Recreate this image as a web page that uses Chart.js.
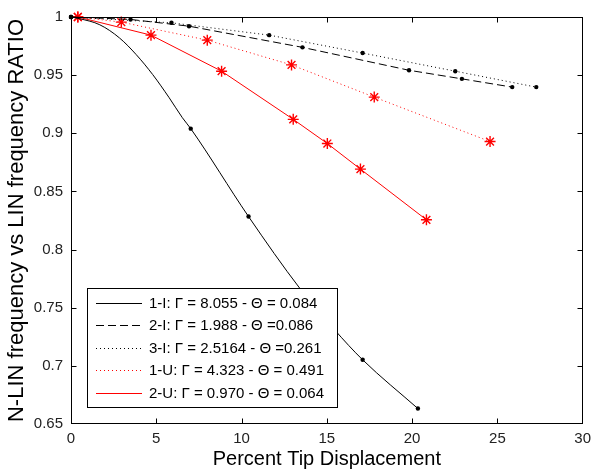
<!DOCTYPE html>
<html><head><meta charset="utf-8">
<script src="https://cdn.jsdelivr.net/npm/chart.js@4"></script>
<style>html,body{margin:0;padding:0;background:#fff}</style>
</head><body>
<canvas id="c" width="597" height="475"></canvas>
<script>
// ---- data ----
const xTickValues = [0, 5, 10, 15, 20, 25, 30];
const xTickLabels = ['0', '5', '10', '15', '20', '25', '30'];
const yTickValues = [0.65, 0.7, 0.75, 0.8, 0.85, 0.9, 0.95, 1];
const yTickLabels = ['0.65', '0.7', '0.75', '0.8', '0.85', '0.9', '0.95', '1'];

const seriesLabels = [
  '1-I: \u0393 = 8.055 - \u0398 = 0.084',
  '2-I: \u0393 = 1.988 - \u0398 =0.086',
  '3-I: \u0393 = 2.5164 - \u0398 =0.261',
  '1-U: \u0393 = 4.323 - \u0398 = 0.491',
  '2-U: \u0393 = 0.970 - \u0398 = 0.064'
];

// 1-I (solid black curve, markers at flagged points)
const s1I_x = [0, 0.52, 1.69, 2.85, 3.82, 4.79, 5.76, 6.53, 7.02, 10.41, 13.42, 15.46, 17.10, 20.34];
const s1I_y = [1.000, 0.9985, 0.9933, 0.9819, 0.9677, 0.9505, 0.9305, 0.9134, 0.904, 0.8284, 0.7666, 0.7309, 0.7052, 0.6633];
const s1I_mark = [1, 0, 0, 0, 0, 0, 0, 0, 1, 1, 0, 0, 1, 1];
// 2-I (dashed black)
const s2I_x = [0, 3.49, 6.92, 13.57, 19.82, 22.92, 25.87];
const s2I_y = [1.000, 0.9979, 0.9921, 0.9739, 0.9542, 0.9468, 0.9397];
// 3-I (dotted black)
const s3I_x = [0, 5.89, 11.62, 17.10, 22.53, 27.28];
const s3I_y = [1.000, 0.9950, 0.9844, 0.9690, 0.9534, 0.9397];
// 1-U (dotted red)
const s1U_x = [0.4, 2.95, 7.99, 12.93, 17.78, 24.57];
const s1U_y = [1.000, 0.9956, 0.9801, 0.9588, 0.9311, 0.8929];
// 2-U (solid red)
const s2U_x = [0.4, 4.69, 8.83, 13.03, 15.03, 16.97, 20.84];
const s2U_y = [1.000, 0.9844, 0.9534, 0.9120, 0.8912, 0.8692, 0.8256];

const pts = (xs, ys) => xs.map((x, i) => ({x: x, y: ys[i]}));
const FONT = '"Liberation Sans", Arial, sans-serif';
Chart.defaults.font.family = FONT;

const datasets = [
  {label: seriesLabels[0], data: pts(s1I_x, s1I_y), borderColor: '#000', backgroundColor: '#000',
   borderWidth: 1, cubicInterpolationMode: 'monotone', pointStyle: 'circle',
   pointRadius: s1I_mark.map(m => m ? 2.2 : 0), pointBorderWidth: 0, clip: false},
  {label: seriesLabels[1], data: pts(s2I_x, s2I_y), borderColor: '#000', backgroundColor: '#000',
   borderWidth: 1, borderDash: [8, 4], tension: 0, pointStyle: 'circle', pointRadius: 2.2, pointBorderWidth: 0, clip: false},
  {label: seriesLabels[2], data: pts(s3I_x, s3I_y), borderColor: '#000', backgroundColor: '#000',
   borderWidth: 1, borderDash: [1, 3], tension: 0, pointStyle: 'circle', pointRadius: 2.2, pointBorderWidth: 0, clip: false},
  {label: seriesLabels[3], data: pts(s1U_x, s1U_y), borderColor: '#ff0000', backgroundColor: '#ff0000',
   borderWidth: 1, borderDash: [1, 3], tension: 0, pointStyle: 'star', pointRadius: 5.5, pointBorderWidth: 1.4,
   pointBorderColor: '#ff0000', clip: false},
  {label: seriesLabels[4], data: pts(s2U_x, s2U_y), borderColor: '#ff0000', backgroundColor: '#ff0000',
   borderWidth: 1, tension: 0, pointStyle: 'star', pointRadius: 5.5, pointBorderWidth: 1.4,
   pointBorderColor: '#ff0000', clip: false}
];

const framePlugin = {
  id: 'frame',
  afterDraw(chart) {
    const ctx = chart.ctx, ca = chart.chartArea;
    const xs = chart.scales.x, ys = chart.scales.y;
    const L = Math.round(ca.left) + 0.5, R = Math.round(ca.right) - 0.5;
    const T = Math.round(ca.top) + 0.5, B = Math.round(ca.bottom) - 0.5;
    const clamp = (v, a, b) => Math.min(Math.max(v, a), b);
    ctx.save();
    ctx.strokeStyle = '#000'; ctx.lineWidth = 1; ctx.setLineDash([]);
    // inward ticks
    const tl = 5;
    ctx.beginPath();
    xTickValues.forEach(v => {
      const px = clamp(Math.round(xs.getPixelForValue(v)) + 0.5, L, R);
      ctx.moveTo(px, B); ctx.lineTo(px, B - tl);
      ctx.moveTo(px, T); ctx.lineTo(px, T + tl);
    });
    yTickValues.forEach(v => {
      const py = clamp(Math.round(ys.getPixelForValue(v)) + 0.5, T, B);
      ctx.moveTo(L, py); ctx.lineTo(L + tl, py);
      ctx.moveTo(R, py); ctx.lineTo(R - tl, py);
    });
    ctx.stroke();
    ctx.strokeRect(L, T, R - L, B - T);

    // legend box
    const bw = 250, bh = 119;
    const bx = Math.round(ca.left + 16), by = Math.round(ca.bottom - 17 - bh);
    ctx.fillStyle = '#fff';
    ctx.fillRect(bx, by, bw, bh);
    ctx.strokeRect(bx + 0.5, by + 0.5, bw, bh);
    ctx.font = '15px ' + FONT;
    ctx.textBaseline = 'middle';
    ctx.textAlign = 'left';
    chart.data.datasets.forEach((ds, i) => {
      const y = Math.round(by + 15 + i * 22.4) + 0.5;
      ctx.beginPath();
      ctx.strokeStyle = ds.borderColor;
      ctx.setLineDash(ds.borderDash || []);
      ctx.moveTo(bx + 9, y); ctx.lineTo(bx + 55, y);
      ctx.stroke();
      ctx.setLineDash([]);
      ctx.fillStyle = '#000';
      ctx.fillText(ds.label, bx + 62, y);
    });
    ctx.restore();
  }
};

new Chart(document.getElementById('c'), {
  type: 'line',
  data: {datasets: datasets},
  options: {
    responsive: false,
    animation: false,
    layout: {padding: {top: 15, right: 10, left: 0, bottom: 0}},
    plugins: {legend: {display: false}, tooltip: {enabled: false}},
    scales: {
      x: {
        type: 'linear', min: 0, max: 30,
        afterBuildTicks: s => { s.ticks = xTickValues.map(v => ({value: v})); },
        afterFit: s => { s.height = 51; },
        grid: {display: false, drawTicks: false},
        border: {display: false},
        ticks: {padding: 6, color: '#222', font: {size: 15},
                callback: (v, i) => xTickLabels[i]},
        title: {display: true, text: 'Percent Tip Displacement', color: '#000',
                font: {size: 20}, padding: {top: 0, bottom: 4}}
      },
      y: {
        type: 'linear', min: 0.65, max: 1,
        afterBuildTicks: s => { s.ticks = yTickValues.map(v => ({value: v})); },
        afterFit: s => { s.width = 71; },
        grid: {display: false, drawTicks: false},
        border: {display: false},
        ticks: {padding: 8, color: '#222', font: {size: 15},
                callback: (v, i) => yTickLabels[i]},
        title: {display: true, text: 'N-LIN frequency vs LIN frequency RATIO', color: '#000',
                font: {size: 22}, padding: {top: 4, bottom: 0}}
      }
    }
  },
  plugins: [framePlugin]
});
</script>
</body></html>
